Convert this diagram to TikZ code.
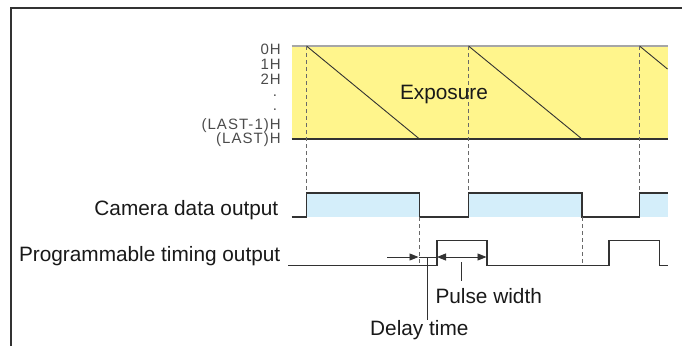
\documentclass[tikz,border=0pt]{standalone}
\usepackage{fontspec}
\setmainfont{Liberation Sans}
\usetikzlibrary{arrows.meta,positioning}
\definecolor{expyellow}{RGB}{255,245,140}
\definecolor{outblue}{RGB}{212,238,250}
\definecolor{linegray}{RGB}{50,50,50}
\definecolor{dashgray}{RGB}{105,105,105}
\definecolor{rowgray}{RGB}{75,75,75}

\tikzset{
  wave/.style={draw=linegray,line width=1.8pt,line join=miter},
  guide/.style={draw=dashgray,line width=0.8pt,dash pattern=on 4pt off 3pt},
  sig/.style={font=\fontsize{20.8}{22}\selectfont,text=black!90,inner sep=0pt},
  rowlbl/.style={font=\fontsize{15}{16}\selectfont\addfontfeature{LetterSpace=7},text=rowgray,inner sep=0pt,anchor=base east},
  thinline/.style={draw=linegray,line width=0.9pt},
  tip/.style={thinline,-{Triangle[length=9pt,width=7pt]}},
  tips/.style={thinline,{Triangle[length=9pt,width=7pt]}-{Triangle[length=9pt,width=7pt]}},
}

\begin{document}
\begin{tikzpicture}[x=1pt,y=-1pt]
\useasboundingbox (0,0) rectangle (682,346);
% frame
\draw[line width=2pt,draw=linegray] (11,346) -- (11,8) -- (682,8);

% Exposure band
\fill[expyellow] (291.5,46) rectangle (667.5,139);
\draw[black!35,line width=1.2pt] (291.5,46) -- (667.5,46);
\draw[linegray,line width=1.2pt] (291.5,139) -- (667.5,139);
\draw[thinline] (306.5,46) -- (419.5,139);
\draw[thinline] (468.5,46) -- (582,139);
\draw[thinline] (639.5,46) -- (667.5,69);
\node[sig,anchor=base] (expo) at (444,99) {Exposure};

% line numbers
\node[rowlbl] (r0) at (281,54) {0H};
\node[rowlbl] (r1) at (281,69) {1H};
\node[rowlbl] (r2) at (281,84) {2H};
\node[rowlbl,anchor=base] (r3) at (275,96) {.};
\node[rowlbl,anchor=base] (r4) at (275,110) {.};
\node[rowlbl] (r5) at (281,129) {(LAST-1)H};
\node[rowlbl] (r6) at (281,143) {(LAST)H};

% edge points
\coordinate (c1) at (306.5,193);
\coordinate (c2) at (419.5,217);
\coordinate (c3) at (468.5,193);
\coordinate (c4) at (582,217);
\coordinate (c5) at (639.5,193);

% Camera data output
\fill[outblue] (c1) rectangle (419.5,217);
\fill[outblue] (c3) rectangle (c4);
\fill[outblue] (c5) rectangle (667.5,217);
\draw[wave] (291.5,217) -| (c1) -| (c2) -| (c3) -| (c4) -| (c5) -- (667.5,193);
\node[sig,anchor=base east] (camlbl) at (278.5,215) {Camera data output};

% Programmable timing output
\draw[wave] (288,265.5) -- (437,265.5) |- (487,240.5) |- (609,265.5) |- (659.5,240.5) |- (667.5,265.5);
\node[sig,anchor=base east] (ptolbl) at (280.5,261) {Programmable timing output};

% dashed guides
\draw[guide] (306.5,46) -- (c1);
\draw[guide] (468.5,46) -- (c3);
\draw[guide] (639.5,46) -- (c5);
\draw[guide] (c2) -- (419.5,265.5);
\draw[guide] (c4) -- (582,265.5);

% delay / pulse arrows
\coordinate (dl) at (387,257);
\coordinate (dr) at (418.5,257);
\coordinate (pl) at (437,257);
\coordinate (pr) at (486.5,257);
\draw[tip] (dl) -- (dr);
\draw[thinline] (dr) -- (pl);
\draw[tips] (pl) -- (pr);

\node[sig,anchor=base] (delay) at (419.3,335) {Delay time};
\node[sig,anchor=base] (pulse) at (488.7,303.5) {Pulse width};
\coordinate (dlead) at (427.6,257);
\coordinate (plead) at (461,262);
\draw[thinline] (dlead) -- (dlead |- delay.north);
\draw[thinline,shorten >=7pt] (plead) -- (plead |- pulse.north);
\end{tikzpicture}
\end{document}
